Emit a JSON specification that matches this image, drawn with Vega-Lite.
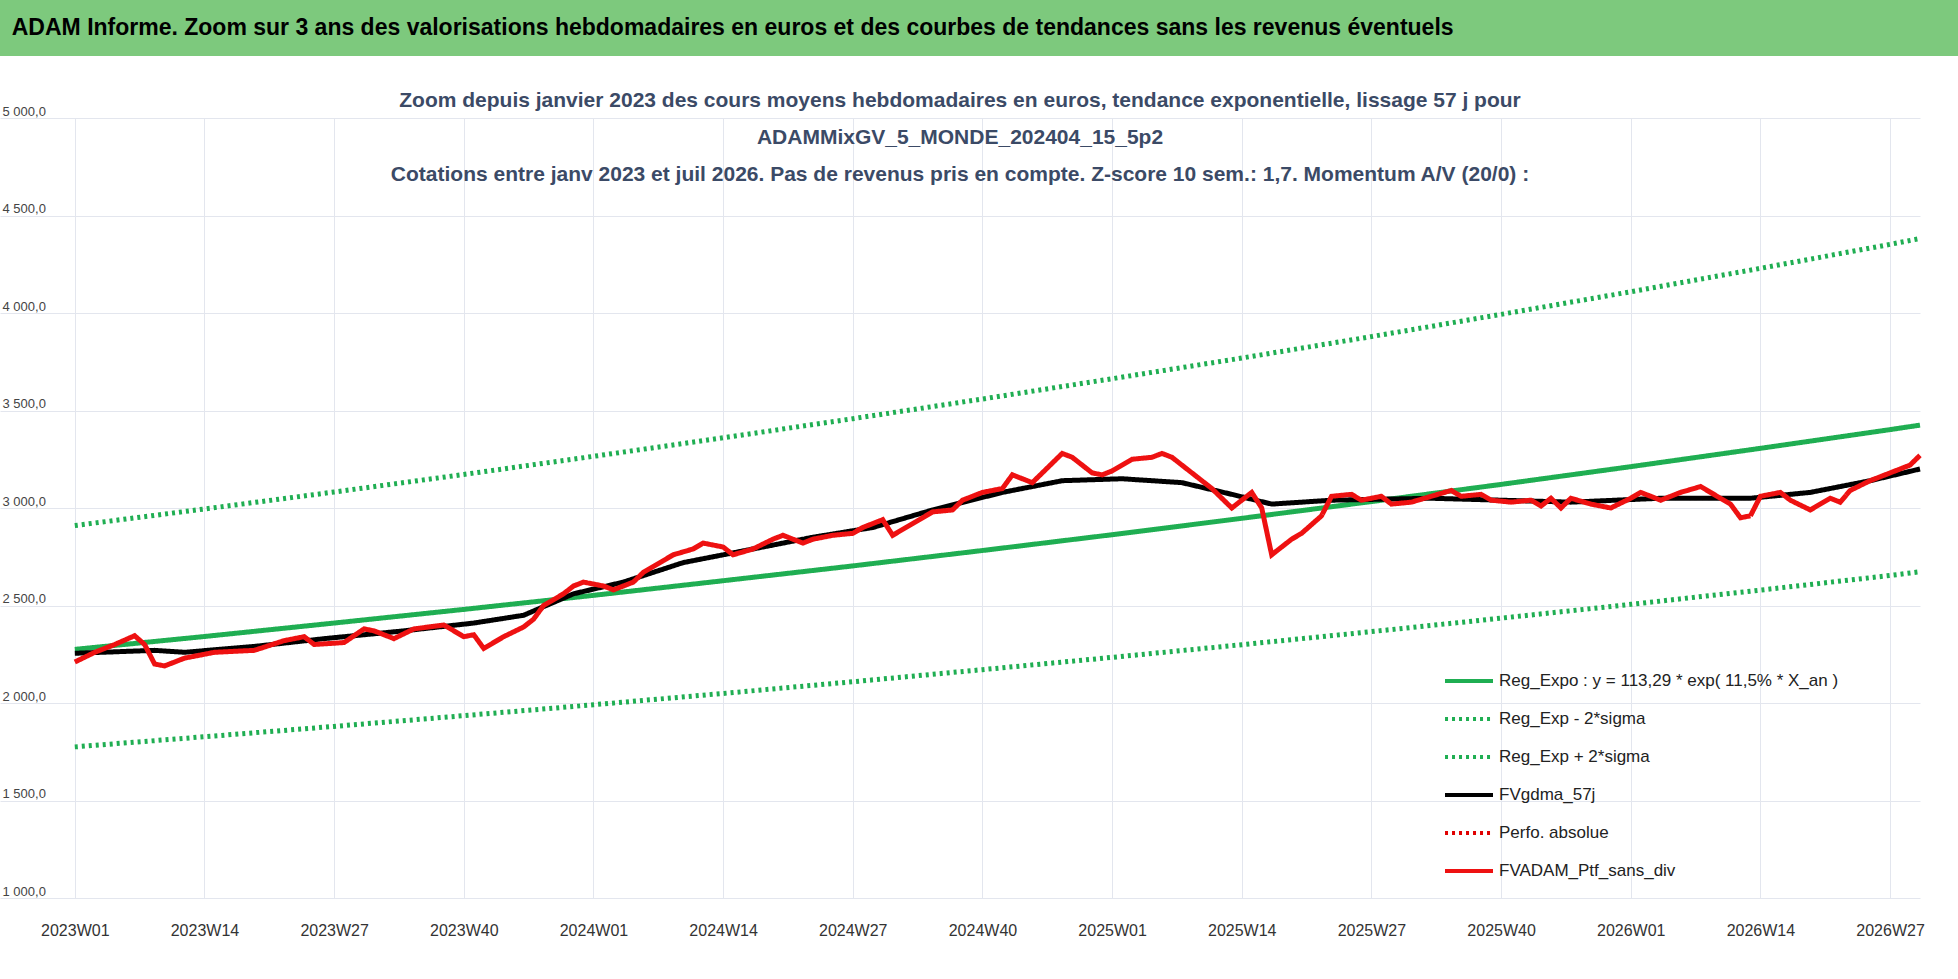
{
"$schema":"https://vega.github.io/schema/vega-lite/v6.json",
"background":"white","padding":0,"spacing":34,
"config":{"font":"Liberation Sans"},
"datasets":{
"series":[
{"s":"Reg_Expo : y = 113,29 * exp( 11,5% *  X_an )","i":0,"v":2275},{"s":"Reg_Expo : y = 113,29 * exp( 11,5% *  X_an )","i":13,"v":2341},{"s":"Reg_Expo : y = 113,29 * exp( 11,5% *  X_an )","i":26,"v":2410},{"s":"Reg_Expo : y = 113,29 * exp( 11,5% *  X_an )","i":39,"v":2480},{"s":"Reg_Expo : y = 113,29 * exp( 11,5% *  X_an )","i":52,"v":2552},{"s":"Reg_Expo : y = 113,29 * exp( 11,5% *  X_an )","i":65,"v":2627},{"s":"Reg_Expo : y = 113,29 * exp( 11,5% *  X_an )","i":78,"v":2703},{"s":"Reg_Expo : y = 113,29 * exp( 11,5% *  X_an )","i":91,"v":2782},{"s":"Reg_Expo : y = 113,29 * exp( 11,5% *  X_an )","i":104,"v":2863},{"s":"Reg_Expo : y = 113,29 * exp( 11,5% *  X_an )","i":117,"v":2947},{"s":"Reg_Expo : y = 113,29 * exp( 11,5% *  X_an )","i":130,"v":3033},{"s":"Reg_Expo : y = 113,29 * exp( 11,5% *  X_an )","i":143,"v":3121},{"s":"Reg_Expo : y = 113,29 * exp( 11,5% *  X_an )","i":156,"v":3212},{"s":"Reg_Expo : y = 113,29 * exp( 11,5% *  X_an )","i":169,"v":3306},{"s":"Reg_Expo : y = 113,29 * exp( 11,5% *  X_an )","i":182,"v":3402},{"s":"Reg_Expo : y = 113,29 * exp( 11,5% *  X_an )","i":185,"v":3425},
{"s":"Reg_Exp - 2*sigma","i":0,"v":1775},{"s":"Reg_Exp - 2*sigma","i":13,"v":1827},{"s":"Reg_Exp - 2*sigma","i":26,"v":1880},{"s":"Reg_Exp - 2*sigma","i":39,"v":1935},{"s":"Reg_Exp - 2*sigma","i":52,"v":1991},{"s":"Reg_Exp - 2*sigma","i":65,"v":2049},{"s":"Reg_Exp - 2*sigma","i":78,"v":2109},{"s":"Reg_Exp - 2*sigma","i":91,"v":2171},{"s":"Reg_Exp - 2*sigma","i":104,"v":2234},{"s":"Reg_Exp - 2*sigma","i":117,"v":2299},{"s":"Reg_Exp - 2*sigma","i":130,"v":2366},{"s":"Reg_Exp - 2*sigma","i":143,"v":2435},{"s":"Reg_Exp - 2*sigma","i":156,"v":2506},{"s":"Reg_Exp - 2*sigma","i":169,"v":2579},{"s":"Reg_Exp - 2*sigma","i":182,"v":2654},{"s":"Reg_Exp - 2*sigma","i":185,"v":2673},
{"s":"Reg_Exp + 2*sigma","i":0,"v":2910},{"s":"Reg_Exp + 2*sigma","i":13,"v":2995},{"s":"Reg_Exp + 2*sigma","i":26,"v":3082},{"s":"Reg_Exp + 2*sigma","i":39,"v":3172},{"s":"Reg_Exp + 2*sigma","i":52,"v":3265},{"s":"Reg_Exp + 2*sigma","i":65,"v":3360},{"s":"Reg_Exp + 2*sigma","i":78,"v":3458},{"s":"Reg_Exp + 2*sigma","i":91,"v":3559},{"s":"Reg_Exp + 2*sigma","i":104,"v":3663},{"s":"Reg_Exp + 2*sigma","i":117,"v":3769},{"s":"Reg_Exp + 2*sigma","i":130,"v":3879},{"s":"Reg_Exp + 2*sigma","i":143,"v":3993},{"s":"Reg_Exp + 2*sigma","i":156,"v":4109},{"s":"Reg_Exp + 2*sigma","i":169,"v":4229},{"s":"Reg_Exp + 2*sigma","i":182,"v":4352},{"s":"Reg_Exp + 2*sigma","i":185,"v":4382},
{"s":"FVgdma_57j","i":0,"v":2255},{"s":"FVgdma_57j","i":8,"v":2270},{"s":"FVgdma_57j","i":11,"v":2260},{"s":"FVgdma_57j","i":18,"v":2290},{"s":"FVgdma_57j","i":25,"v":2330},{"s":"FVgdma_57j","i":33,"v":2370},{"s":"FVgdma_57j","i":40,"v":2410},{"s":"FVgdma_57j","i":45,"v":2450},{"s":"FVgdma_57j","i":50,"v":2560},{"s":"FVgdma_57j","i":55,"v":2620},{"s":"FVgdma_57j","i":61,"v":2720},{"s":"FVgdma_57j","i":68,"v":2790},{"s":"FVgdma_57j","i":74,"v":2850},{"s":"FVgdma_57j","i":80,"v":2900},{"s":"FVgdma_57j","i":86,"v":2990},{"s":"FVgdma_57j","i":93,"v":3080},{"s":"FVgdma_57j","i":99,"v":3140},{"s":"FVgdma_57j","i":105,"v":3150},{"s":"FVgdma_57j","i":111,"v":3130},{"s":"FVgdma_57j","i":116,"v":3070},{"s":"FVgdma_57j","i":120,"v":3020},{"s":"FVgdma_57j","i":126,"v":3040},{"s":"FVgdma_57j","i":136,"v":3050},{"s":"FVgdma_57j","i":143,"v":3040},{"s":"FVgdma_57j","i":150,"v":3030},{"s":"FVgdma_57j","i":159,"v":3050},{"s":"FVgdma_57j","i":168,"v":3050},{"s":"FVgdma_57j","i":174,"v":3080},{"s":"FVgdma_57j","i":180,"v":3140},{"s":"FVgdma_57j","i":185,"v":3200},
{"s":"FVADAM_Ptf_sans_div","i":0,"v":2210},{"s":"FVADAM_Ptf_sans_div","i":2,"v":2260},{"s":"FVADAM_Ptf_sans_div","i":4,"v":2300},{"s":"FVADAM_Ptf_sans_div","i":6,"v":2345},{"s":"FVADAM_Ptf_sans_div","i":7,"v":2300},{"s":"FVADAM_Ptf_sans_div","i":8,"v":2200},{"s":"FVADAM_Ptf_sans_div","i":9,"v":2190},{"s":"FVADAM_Ptf_sans_div","i":11,"v":2230},{"s":"FVADAM_Ptf_sans_div","i":14,"v":2260},{"s":"FVADAM_Ptf_sans_div","i":18,"v":2270},{"s":"FVADAM_Ptf_sans_div","i":21,"v":2320},{"s":"FVADAM_Ptf_sans_div","i":23,"v":2340},{"s":"FVADAM_Ptf_sans_div","i":24,"v":2300},{"s":"FVADAM_Ptf_sans_div","i":27,"v":2310},{"s":"FVADAM_Ptf_sans_div","i":29,"v":2380},{"s":"FVADAM_Ptf_sans_div","i":30,"v":2370},{"s":"FVADAM_Ptf_sans_div","i":32,"v":2330},{"s":"FVADAM_Ptf_sans_div","i":34,"v":2380},{"s":"FVADAM_Ptf_sans_div","i":37,"v":2400},{"s":"FVADAM_Ptf_sans_div","i":39,"v":2340},{"s":"FVADAM_Ptf_sans_div","i":40,"v":2350},{"s":"FVADAM_Ptf_sans_div","i":41,"v":2280},{"s":"FVADAM_Ptf_sans_div","i":43,"v":2340},{"s":"FVADAM_Ptf_sans_div","i":45,"v":2390},{"s":"FVADAM_Ptf_sans_div","i":46,"v":2430},{"s":"FVADAM_Ptf_sans_div","i":47,"v":2500},{"s":"FVADAM_Ptf_sans_div","i":49,"v":2560},{"s":"FVADAM_Ptf_sans_div","i":50,"v":2600},{"s":"FVADAM_Ptf_sans_div","i":51,"v":2620},{"s":"FVADAM_Ptf_sans_div","i":53,"v":2600},{"s":"FVADAM_Ptf_sans_div","i":54,"v":2580},{"s":"FVADAM_Ptf_sans_div","i":56,"v":2620},{"s":"FVADAM_Ptf_sans_div","i":57,"v":2670},{"s":"FVADAM_Ptf_sans_div","i":59,"v":2730},{"s":"FVADAM_Ptf_sans_div","i":60,"v":2760},{"s":"FVADAM_Ptf_sans_div","i":62,"v":2790},{"s":"FVADAM_Ptf_sans_div","i":63,"v":2820},{"s":"FVADAM_Ptf_sans_div","i":65,"v":2800},{"s":"FVADAM_Ptf_sans_div","i":66,"v":2760},{"s":"FVADAM_Ptf_sans_div","i":68,"v":2790},{"s":"FVADAM_Ptf_sans_div","i":70,"v":2840},{"s":"FVADAM_Ptf_sans_div","i":71,"v":2860},{"s":"FVADAM_Ptf_sans_div","i":73,"v":2820},{"s":"FVADAM_Ptf_sans_div","i":74,"v":2840},{"s":"FVADAM_Ptf_sans_div","i":76,"v":2860},{"s":"FVADAM_Ptf_sans_div","i":78,"v":2870},{"s":"FVADAM_Ptf_sans_div","i":79,"v":2900},{"s":"FVADAM_Ptf_sans_div","i":81,"v":2940},{"s":"FVADAM_Ptf_sans_div","i":82,"v":2860},{"s":"FVADAM_Ptf_sans_div","i":84,"v":2920},{"s":"FVADAM_Ptf_sans_div","i":86,"v":2980},{"s":"FVADAM_Ptf_sans_div","i":88,"v":2990},{"s":"FVADAM_Ptf_sans_div","i":89,"v":3040},{"s":"FVADAM_Ptf_sans_div","i":91,"v":3080},{"s":"FVADAM_Ptf_sans_div","i":93,"v":3100},{"s":"FVADAM_Ptf_sans_div","i":94,"v":3170},{"s":"FVADAM_Ptf_sans_div","i":96,"v":3130},{"s":"FVADAM_Ptf_sans_div","i":97,"v":3180},{"s":"FVADAM_Ptf_sans_div","i":98,"v":3230},{"s":"FVADAM_Ptf_sans_div","i":99,"v":3280},{"s":"FVADAM_Ptf_sans_div","i":100,"v":3260},{"s":"FVADAM_Ptf_sans_div","i":102,"v":3180},{"s":"FVADAM_Ptf_sans_div","i":103,"v":3170},{"s":"FVADAM_Ptf_sans_div","i":104,"v":3190},{"s":"FVADAM_Ptf_sans_div","i":106,"v":3250},{"s":"FVADAM_Ptf_sans_div","i":108,"v":3260},{"s":"FVADAM_Ptf_sans_div","i":109,"v":3280},{"s":"FVADAM_Ptf_sans_div","i":110,"v":3260},{"s":"FVADAM_Ptf_sans_div","i":112,"v":3180},{"s":"FVADAM_Ptf_sans_div","i":114,"v":3100},{"s":"FVADAM_Ptf_sans_div","i":116,"v":3000},{"s":"FVADAM_Ptf_sans_div","i":118,"v":3080},{"s":"FVADAM_Ptf_sans_div","i":119,"v":3000},{"s":"FVADAM_Ptf_sans_div","i":120,"v":2760},{"s":"FVADAM_Ptf_sans_div","i":122,"v":2840},{"s":"FVADAM_Ptf_sans_div","i":123,"v":2870},{"s":"FVADAM_Ptf_sans_div","i":125,"v":2960},{"s":"FVADAM_Ptf_sans_div","i":126,"v":3060},{"s":"FVADAM_Ptf_sans_div","i":128,"v":3070},{"s":"FVADAM_Ptf_sans_div","i":129,"v":3040},{"s":"FVADAM_Ptf_sans_div","i":131,"v":3060},{"s":"FVADAM_Ptf_sans_div","i":132,"v":3020},{"s":"FVADAM_Ptf_sans_div","i":134,"v":3030},{"s":"FVADAM_Ptf_sans_div","i":136,"v":3060},{"s":"FVADAM_Ptf_sans_div","i":138,"v":3090},{"s":"FVADAM_Ptf_sans_div","i":139,"v":3060},{"s":"FVADAM_Ptf_sans_div","i":141,"v":3070},{"s":"FVADAM_Ptf_sans_div","i":142,"v":3040},{"s":"FVADAM_Ptf_sans_div","i":144,"v":3030},{"s":"FVADAM_Ptf_sans_div","i":146,"v":3040},{"s":"FVADAM_Ptf_sans_div","i":147,"v":3010},{"s":"FVADAM_Ptf_sans_div","i":148,"v":3050},{"s":"FVADAM_Ptf_sans_div","i":149,"v":3000},{"s":"FVADAM_Ptf_sans_div","i":150,"v":3050},{"s":"FVADAM_Ptf_sans_div","i":152,"v":3020},{"s":"FVADAM_Ptf_sans_div","i":154,"v":3000},{"s":"FVADAM_Ptf_sans_div","i":156,"v":3050},{"s":"FVADAM_Ptf_sans_div","i":157,"v":3080},{"s":"FVADAM_Ptf_sans_div","i":159,"v":3040},{"s":"FVADAM_Ptf_sans_div","i":161,"v":3080},{"s":"FVADAM_Ptf_sans_div","i":163,"v":3110},{"s":"FVADAM_Ptf_sans_div","i":164,"v":3080},{"s":"FVADAM_Ptf_sans_div","i":166,"v":3020},{"s":"FVADAM_Ptf_sans_div","i":167,"v":2950},{"s":"FVADAM_Ptf_sans_div","i":168,"v":2960},{"s":"FVADAM_Ptf_sans_div","i":169,"v":3060},{"s":"FVADAM_Ptf_sans_div","i":171,"v":3080},{"s":"FVADAM_Ptf_sans_div","i":172,"v":3040},{"s":"FVADAM_Ptf_sans_div","i":174,"v":2990},{"s":"FVADAM_Ptf_sans_div","i":176,"v":3050},{"s":"FVADAM_Ptf_sans_div","i":177,"v":3030},{"s":"FVADAM_Ptf_sans_div","i":178,"v":3090},{"s":"FVADAM_Ptf_sans_div","i":180,"v":3140},{"s":"FVADAM_Ptf_sans_div","i":181,"v":3160},{"s":"FVADAM_Ptf_sans_div","i":183,"v":3200},{"s":"FVADAM_Ptf_sans_div","i":184,"v":3220},{"s":"FVADAM_Ptf_sans_div","i":185,"v":3270}
]},
"vconcat":[
{"width":1958,"height":56,"data":{"values":[{"t":"ADAM Informe. Zoom sur 3 ans des valorisations hebdomadaires en euros et des courbes de tendances sans les revenus éventuels"}]},
"view":{"fill":"#7dc97d","stroke":null},
"mark":{"type":"text","align":"left","baseline":"middle","fontSize":23,"fontWeight":"bold","color":"black"},
"encoding":{"text":{"field":"t"},
"x":{"datum":0.006,"type":"quantitative","scale":{"domain":[0,1]},"axis":null},
"y":{"datum":0.5,"type":"quantitative","scale":{"domain":[0,1]},"axis":null}}},
{"width":1920,"height":780,
"title":{"text":["Zoom depuis janvier 2023 des cours moyens hebdomadaires  en euros, tendance exponentielle, lissage 57 j pour","ADAMMixGV_5_MONDE_202404_15_5p2","Cotations entre janv 2023 et juil 2026. Pas de revenus pris en compte. Z-score 10 sem.: 1,7. Momentum  A/V (20/0) :"],"fontSize":21,"fontWeight":"bold","color":"#3b4a66","lineHeight":37,"offset":-80,"anchor":"middle"},
"view":{"stroke":null},
"data":{"name":"series"},
"mark":{"type":"line","strokeWidth":5},
"encoding":{
"x":{"field":"i","type":"quantitative","scale":{"domain":[-7.5,185],"nice":false,"zero":false},
"axis":{"values":[0,13,26,39,52,65,78,91,104,117,130,143,156,169,182],"title":null,"grid":true,"gridColor":"#e3e6ee","labelFontSize":16,"labelColor":"#333","domain":false,"ticks":false,"labelPadding":24,
"labelExpr":"(2023+floor(datum.value/52))+'W'+((datum.value%52+1)<10?'0'+(datum.value%52+1):(datum.value%52+1))"}},
"y":{"field":"v","type":"quantitative","scale":{"domain":[1000,5000],"nice":false,"zero":false},
"axis":{"values":[1000,1500,2000,2500,3000,3500,4000,4500,5000],"title":null,"gridColor":"#e3e6ee","domain":false,"ticks":false,"labelFontSize":13,"labelColor":"#444","labelAlign":"left","labelBaseline":"bottom","labelPadding":-2,
"labelExpr":"replace(replace(format(datum.value,',.1f'),',',' '),'.',',')"}},
"color":{"field":"s","type":"nominal","sort":null,
"scale":{"domain":["Reg_Expo : y = 113,29 * exp( 11,5% *  X_an )","Reg_Exp - 2*sigma","Reg_Exp + 2*sigma","FVgdma_57j","Perfo. absolue","FVADAM_Ptf_sans_div"],"range":["#1fae52","#1fae52","#1fae52","#000000","#e00000","#ee1111"]},
"legend":{"title":null,"orient":"none","legendX":1443,"legendY":655,"symbolType":"stroke","symbolSize":2300,"symbolStrokeWidth":4,"labelFontSize":17,"labelColor":"#222","rowPadding":4,"labelOffset":4,"labelLimit":400}},
"strokeDash":{"field":"s","type":"nominal","sort":null,
"scale":{"domain":["Reg_Expo : y = 113,29 * exp( 11,5% *  X_an )","Reg_Exp - 2*sigma","Reg_Exp + 2*sigma","FVgdma_57j","Perfo. absolue","FVADAM_Ptf_sans_div"],"range":[[1,0],[3,4],[3,4],[1,0],[3,4],[1,0]]},"legend":null},
"strokeWidth":{"condition":{"test":"indexof(datum.s,'sigma')>=0","value":3.5},"value":5}
}}
]}
